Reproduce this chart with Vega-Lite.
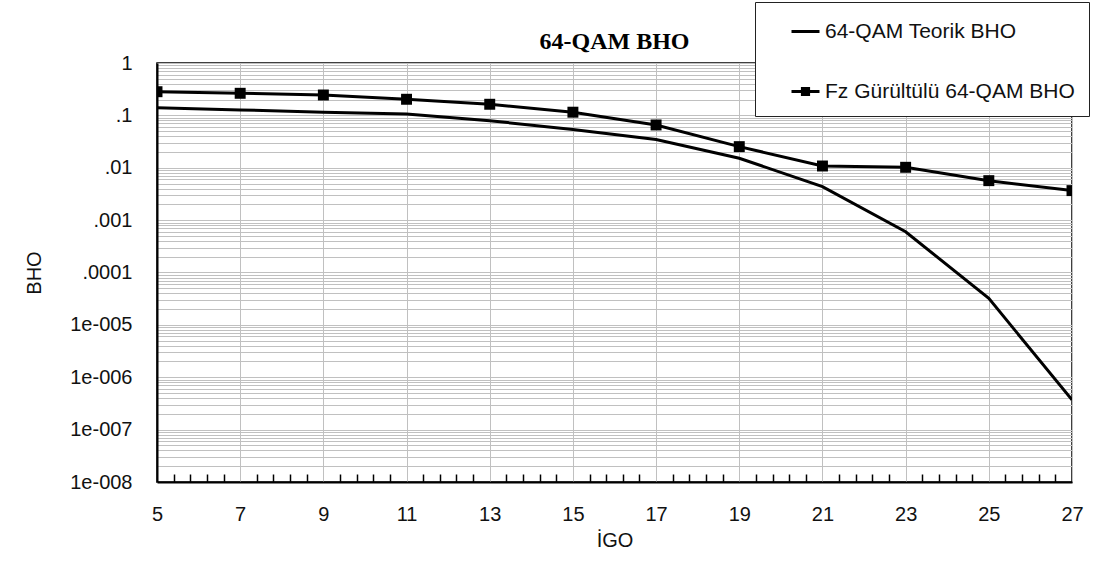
{
  "$schema": "https://vega.github.io/schema/vega-lite/v6.json",
  "width": 915,
  "height": 419,
  "autosize": {"type": "none"},
  "padding": {"left": 157, "top": 63, "right": 48, "bottom": 94},
  "background": "white",
  "config": {
    "view": {"stroke": "#000", "strokeWidth": 1.5},
    "font": "Liberation Sans"
  },
  "title": {
    "text": "64-QAM BHO",
    "font": "Liberation Serif",
    "fontSize": 24,
    "fontWeight": "bold",
    "color": "#000",
    "anchor": "middle",
    "offset": 12,
    "dy": 64
  },
  "data": {
    "values": [
      {"igo": 5, "seri": "64-QAM Teorik BHO", "bho": 0.140},
      {"igo": 7, "seri": "64-QAM Teorik BHO", "bho": 0.127},
      {"igo": 9, "seri": "64-QAM Teorik BHO", "bho": 0.115},
      {"igo": 11, "seri": "64-QAM Teorik BHO", "bho": 0.106},
      {"igo": 13, "seri": "64-QAM Teorik BHO", "bho": 0.079},
      {"igo": 15, "seri": "64-QAM Teorik BHO", "bho": 0.054},
      {"igo": 17, "seri": "64-QAM Teorik BHO", "bho": 0.0347},
      {"igo": 19, "seri": "64-QAM Teorik BHO", "bho": 0.0152},
      {"igo": 21, "seri": "64-QAM Teorik BHO", "bho": 0.00436},
      {"igo": 23, "seri": "64-QAM Teorik BHO", "bho": 0.0006},
      {"igo": 25, "seri": "64-QAM Teorik BHO", "bho": 0.000032},
      {"igo": 27, "seri": "64-QAM Teorik BHO", "bho": 0.00000037},
      {"igo": 5, "seri": "Fz Gürültülü 64-QAM BHO", "bho": 0.283},
      {"igo": 7, "seri": "Fz Gürültülü 64-QAM BHO", "bho": 0.264},
      {"igo": 9, "seri": "Fz Gürültülü 64-QAM BHO", "bho": 0.245},
      {"igo": 11, "seri": "Fz Gürültülü 64-QAM BHO", "bho": 0.203},
      {"igo": 13, "seri": "Fz Gürültülü 64-QAM BHO", "bho": 0.163},
      {"igo": 15, "seri": "Fz Gürültülü 64-QAM BHO", "bho": 0.115},
      {"igo": 17, "seri": "Fz Gürültülü 64-QAM BHO", "bho": 0.0656},
      {"igo": 19, "seri": "Fz Gürültülü 64-QAM BHO", "bho": 0.0253},
      {"igo": 21, "seri": "Fz Gürültülü 64-QAM BHO", "bho": 0.0108},
      {"igo": 23, "seri": "Fz Gürültülü 64-QAM BHO", "bho": 0.0102},
      {"igo": 25, "seri": "Fz Gürültülü 64-QAM BHO", "bho": 0.00567},
      {"igo": 27, "seri": "Fz Gürültülü 64-QAM BHO", "bho": 0.00366}
    ]
  },
  "layer": [
    {
      "mark": {"type": "line", "color": "#000", "strokeWidth": 3, "clip": true},
      "encoding": {
        "x": {
          "field": "igo",
          "type": "quantitative",
          "scale": {"domain": [5, 27], "nice": false, "zero": false},
          "axis": {
            "orient": "bottom",
            "values": [5, 7, 9, 11, 13, 15, 17, 19, 21, 23, 25, 27],
            "format": "d",
            "grid": true,
            "gridColor": "#c0c0c0",
            "gridWidth": 1,
            "ticks": false,
            "domain": true,
            "domainColor": "#000",
            "domainWidth": 2,
            "labelFont": "Liberation Sans",
            "labelFontSize": 20,
            "labelColor": "#111",
            "labelPadding": 22,
            "labelFlush": false,
            "labelOverlap": false,
            "title": "İGO",
            "titleFont": "Liberation Sans",
            "titleFontSize": 20,
            "titleFontWeight": "normal",
            "titleColor": "#111",
            "titlePadding": 6
          }
        },
        "y": {
          "field": "bho",
          "type": "quantitative",
          "scale": {"type": "log", "domain": [1e-8, 1], "nice": false},
          "axis": {
            "orient": "left",
            "values": [
              1e-8, 2e-8, 3e-8, 4e-8, 5e-8, 6e-8, 7e-8, 8e-8, 9e-8,
              1e-7, 2e-7, 3e-7, 4e-7, 5e-7, 6e-7, 7e-7, 8e-7, 9e-7,
              1e-6, 2e-6, 3e-6, 4e-6, 5e-6, 6e-6, 7e-6, 8e-6, 9e-6,
              1e-5, 2e-5, 3e-5, 4e-5, 5e-5, 6e-5, 7e-5, 8e-5, 9e-5,
              0.0001, 0.0002, 0.0003, 0.0004, 0.0005, 0.0006, 0.0007, 0.0008, 0.0009,
              0.001, 0.002, 0.003, 0.004, 0.005, 0.006, 0.007, 0.008, 0.009,
              0.01, 0.02, 0.03, 0.04, 0.05, 0.06, 0.07, 0.08, 0.09,
              0.1, 0.2, 0.3, 0.4, 0.5, 0.6, 0.7, 0.8, 0.9,
              1
            ],
            "labelExpr": "abs(log(datum.value) / LN10 - round(log(datum.value) / LN10)) > 0.001 ? '' : datum.value >= 0.99 ? '1' : datum.value >= 0.00009 ? replace(format(datum.value, '~g'), '0.', '.') : '1e-00' + (-round(log(datum.value) / LN10))",
            "grid": true,
            "gridColor": "#c0c0c0",
            "gridWidth": 1,
            "ticks": false,
            "domain": true,
            "domainColor": "#000",
            "domainWidth": 2,
            "labelFont": "Liberation Sans",
            "labelFontSize": 20,
            "labelColor": "#111",
            "labelPadding": 25,
            "labelOverlap": false,
            "labelFlush": false,
            "labelBound": false,
            "title": "BHO",
            "titleFont": "Liberation Sans",
            "titleFontSize": 20,
            "titleFontWeight": "normal",
            "titleColor": "#111",
            "titlePadding": 25
          }
        },
        "detail": {"field": "seri", "type": "nominal"}
      }
    },
    {
      "transform": [{"filter": "datum.seri === 'Fz Gürültülü 64-QAM BHO'"}],
      "mark": {"type": "point", "shape": "square", "filled": true, "color": "#000", "size": 120, "opacity": 1, "clip": true},
      "encoding": {
        "x": {
          "field": "igo",
          "type": "quantitative",
          "axis": {
            "orient": "bottom",
            "values": [
              5.4, 5.8, 6.2, 6.6, 7.4, 7.8, 8.2, 8.6, 9.4, 9.8, 10.2, 10.6,
              11.4, 11.8, 12.2, 12.6, 13.4, 13.8, 14.2, 14.6, 15.4, 15.8, 16.2, 16.6,
              17.4, 17.8, 18.2, 18.6, 19.4, 19.8, 20.2, 20.6, 21.4, 21.8, 22.2, 22.6,
              23.4, 23.8, 24.2, 24.6, 25.4, 25.8, 26.2, 26.6
            ],
            "grid": false,
            "labels": false,
            "domain": false,
            "ticks": true,
            "tickSize": -8,
            "tickColor": "#000",
            "tickWidth": 1.5,
            "title": null
          }
        },
        "y": {"field": "bho", "type": "quantitative", "axis": null}
      }
    },
    {
      "transform": [{"filter": "datum.igo > 100"}],
      "mark": {"type": "point", "filled": false, "color": "#000", "strokeWidth": 3, "opacity": 1},
      "encoding": {
        "x": {"field": "igo", "type": "quantitative", "axis": null},
        "y": {"field": "bho", "type": "quantitative", "axis": null},
        "shape": {
          "field": "seri",
          "type": "nominal",
          "scale": {
            "domain": ["64-QAM Teorik BHO", "Fz Gürültülü 64-QAM BHO"],
            "range": [
              "M-1,0H1",
              "M-1,0H1M-0.22,-0.22H0.22V0.22H-0.22ZM-0.1,-0.1H0.1V0.1H-0.1Z"
            ]
          },
          "legend": {
            "orient": "none",
            "legendX": 598,
            "legendY": -61,
            "title": null,
            "fillColor": "#fff",
            "strokeColor": "#222",
            "padding": 14,
            "symbolOffset": 21,
            "symbolSize": 784,
            "symbolStrokeWidth": 3,
            "symbolStrokeColor": "#000",
            "symbolOpacity": 1,
            "rowPadding": 34,
            "labelOffset": 4,
            "labelFont": "Liberation Sans",
            "labelFontSize": 21,
            "labelColor": "#111",
            "labelLimit": 400
          }
        }
      }
    }
  ],
  "resolve": {"axis": {"x": "independent", "y": "independent"}}
}
